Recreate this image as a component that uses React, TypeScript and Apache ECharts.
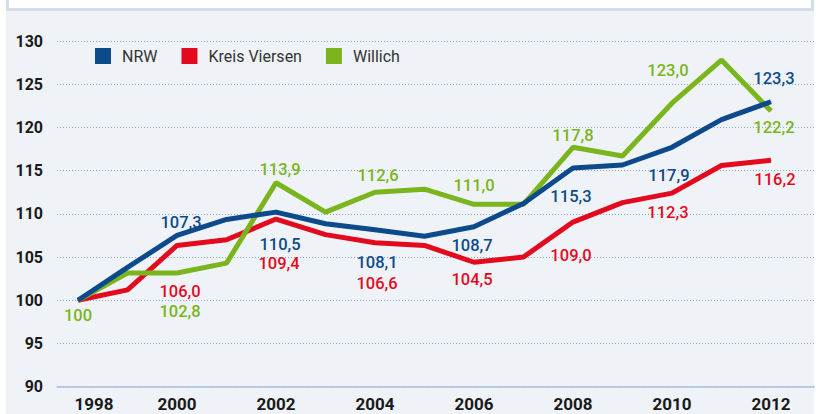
import React, { useEffect, useRef } from "react";
import * as echarts from "echarts";

const years = [1998, 1999, 2000, 2001, 2002, 2003, 2004, 2005, 2006, 2007, 2008, 2009, 2010, 2011, 2012];
const nrw = [100, 103.8, 107.5, 109.35, 110.2, 108.85, 108.15, 107.4, 108.5, 111.2, 115.3, 115.65, 117.7, 120.9, 122.97];
const kreis = [100, 101.2, 106.35, 107.0, 109.4, 107.6, 106.65, 106.35, 104.4, 105.0, 109.05, 111.3, 112.4, 115.6, 116.2];
const willich = [100, 103.15, 103.15, 104.3, 113.6, 110.2, 112.5, 112.85, 111.1, 111.1, 117.7, 116.7, 122.8, 127.8, 121.9];

const xTicks = [1998, 2000, 2002, 2004, 2006, 2008, 2010, 2012];

const nrwLabelYears = [2000, 2002, 2004, 2006, 2008, 2010, 2012];
const nrwLabels = ["107,3", "110,5", "108,1", "108,7", "115,3", "117,9", "123,3"];
const kreisLabelYears = [2000, 2002, 2004, 2006, 2008, 2010, 2012];
const kreisLabels = ["106,0", "109,4", "106,6", "104,5", "109,0", "112,3", "116,2"];
const willichLabelYears = [1998, 2000, 2002, 2004, 2006, 2008, 2010, 2012];
const willichLabels = ["100", "102,8", "113,9", "112,6", "111,0", "117,8", "123,0", "122,2"];

// label offsets (styling), in label order
const nrwOffsets = [[4, -13], [4, 32], [2, 33], [-2, 19], [-2, 28], [-3, 28], [3, -23]];
const kreisOffsets = [[3, 46], [3, 44], [2, 41], [-2, 17], [-2, 33], [-4, 19], [4, 19]];
const willichOffsets = [[0, 15], [3, 38], [4, -13], [3, -17], [0, -19], [0, -12], [-4, -33], [3, 16]];

const BLUE = "#0c4a8b";
const RED = "#e30a1e";
const GREEN = "#7ab51d";

function buildData(values: number[], labelYears: number[], labels: string[], offsets: number[][], color: string) {
  return years.map((yr, i) => {
    const li = labelYears.indexOf(yr);
    if (li < 0) return { value: [yr, values[i]] };
    return {
      value: [yr, values[i]],
      label: {
        show: true,
        position: "inside",
        formatter: labels[li],
        offset: offsets[li],
        color,
        fontFamily: "Roboto",
        fontWeight: 500,
        fontSize: 16.5,
        lineHeight: 16,
      },
    };
  });
}

export default function App() {
  const ref = useRef<HTMLDivElement>(null);
  useEffect(() => {
    if (!ref.current) return;
    const chart = echarts.init(ref.current, null, { renderer: "svg" });
    const mkSeries = (name: string, values: number[], ly: number[], lt: string[], off: number[][], color: string, z: number) => ({
      name,
      type: "line",
      z,
      data: buildData(values, ly, lt, off, color),
      symbol: "circle",
      symbolSize: 1,
      showSymbol: true,
      itemStyle: { color },
      lineStyle: { color, width: 5 },
      label: { show: false },
      emphasis: { disabled: true },
    });
    chart.setOption({
      animation: false,
      textStyle: { fontFamily: "Roboto" },
      grid: { left: 57, right: 2, top: 41, bottom: 27.3, containLabel: false },
      legend: {
        left: 95,
        top: 48,
        padding: 0,
        itemWidth: 16,
        itemHeight: 16,
        itemGap: 24,
        icon: "rect",
        data: ["NRW", "Kreis Viersen", "Willich"],
        textStyle: { fontFamily: "Roboto", fontSize: 16, color: "#333333", padding: [0, 0, 0, 6] },
      },
      xAxis: {
        type: "value",
        min: 1997.575,
        max: 2012.87,
        splitLine: { show: false },
        axisTick: { show: false },
        axisLine: { show: true, lineStyle: { color: "#a9c1de", width: 1.5 } },
        axisLabel: {
          customValues: xTicks,
          margin: 9,
          fontFamily: "Roboto",
          fontWeight: "bold",
          fontSize: 17,
          color: "#1a1a1a",
          formatter: (v: number) => (v === xTicks[0] ? "{first|" + v + "}" : String(v)),
          rich: {
            first: { padding: [0, 0, 0, 32], fontFamily: "Roboto", fontWeight: "bold", fontSize: 17, color: "#1a1a1a" },
          },
        },
      },
      yAxis: {
        type: "value",
        min: 90,
        max: 130,
        interval: 5,
        axisLine: { show: false },
        axisTick: { show: false },
        splitLine: { show: true, lineStyle: { color: "#8fa9d2", width: 1, type: [1, 2] } },
        axisLabel: {
          margin: 14,
          fontFamily: "Roboto",
          fontWeight: "bold",
          fontSize: 16,
          color: "#1a1a1a",
        },
      },
      series: [
        mkSeries("NRW", nrw, nrwLabelYears, nrwLabels, nrwOffsets, BLUE, 5),
        mkSeries("Kreis Viersen", kreis, kreisLabelYears, kreisLabels, kreisOffsets, RED, 3),
        mkSeries("Willich", willich, willichLabelYears, willichLabels, willichOffsets, GREEN, 4),
      ],
    });
    return () => chart.dispose();
  }, []);

  return (
    <div style={{ position: "absolute", left: 0, top: 0, width: 816, height: 414, background: "#ffffff", overflow: "hidden" }}>
      <div style={{ position: "absolute", left: 6, top: 11, width: 808, height: 403, background: "#eff3f7" }} />
      <div
        style={{
          position: "absolute",
          left: 6,
          top: -10,
          width: 802,
          height: 18,
          background: "#ffffff",
          borderLeft: "3px solid #d3deea",
          borderRight: "3px solid #d3deea",
          borderBottom: "3px solid #d3deea",
        }}
      />
      <div ref={ref} style={{ position: "absolute", left: 0, top: 0, width: 816, height: 414 }} />
    </div>
  );
}
